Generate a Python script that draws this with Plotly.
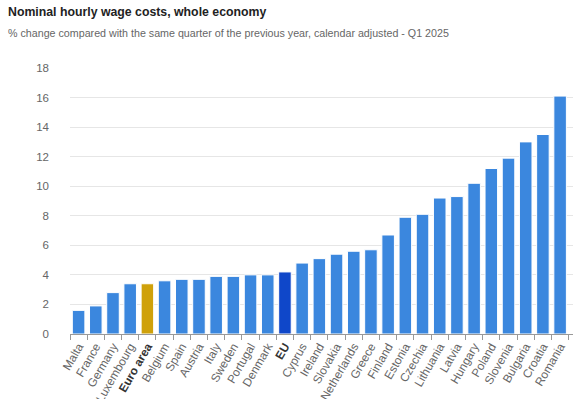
import plotly.graph_objects as go

countries = ["Malta", "France", "Germany", "Luxembourg", "Euro area", "Belgium", "Spain",
             "Austria", "Italy", "Sweden", "Portugal", "Denmark", "EU", "Cyprus", "Ireland",
             "Slovakia", "Netherlands", "Greece", "Finland", "Estonia", "Czechia", "Lithuania",
             "Latvia", "Hungary", "Poland", "Slovenia", "Bulgaria", "Croatia", "Romania"]
values = [1.6, 1.9, 2.8, 3.4, 3.4, 3.6, 3.7, 3.7, 3.9, 3.9, 4.0, 4.0, 4.2, 4.8, 5.1,
          5.4, 5.6, 5.7, 6.7, 7.9, 8.1, 9.2, 9.3, 10.2, 11.2, 11.9, 13.0, 13.5, 16.1]
y_ticks = [0, 2, 4, 6, 8, 10, 12, 14, 16, 18]

BLUE = "#3b87de"
GOLD = "#cfa10a"
EU_BLUE = "#0f47c9"

colors = [GOLD if c == "Euro area" else EU_BLUE if c == "EU" else BLUE for c in countries]
ticktext = [f"<b><span style='color:#333333'>{c}</span></b>" if c in ("Euro area", "EU") else c
            for c in countries]

W, H = 573, 399
L, T, B = 70, 68, 65
plot_h = H - T - B

fig = go.Figure(go.Bar(
    x=countries, y=values,
    marker=dict(color=colors, line=dict(color="white", width=1)),
    hoverinfo="x+y",
))

fig.update_layout(
    width=W, height=H,
    margin=dict(l=L, r=0, t=T, b=B, autoexpand=False),
    paper_bgcolor="white", plot_bgcolor="white",
    font=dict(family="Liberation Sans, Arial, sans-serif", color="#666666"),
    bargap=0.27,
    showlegend=False,
    xaxis=dict(
        type="category", automargin=False,
        tickmode="array", tickvals=countries, ticktext=ticktext,
        tickangle=-60,
        tickfont=dict(size=11.8, color="#666666"),
        range=[-0.5, 28.75],
        showline=True, linecolor="#999999", linewidth=1,
        ticks="outside", tickson="boundaries", ticklen=5, tickcolor="#999999",
        showgrid=False, fixedrange=True,
    ),
    yaxis=dict(
        range=[0, 18], tickvals=y_ticks, automargin=False,
        tickfont=dict(size=11.5, color="#666666"),
        gridcolor="#e6e6e6", gridwidth=1,
        zeroline=False, showline=False,
        ticks="", ticklabelstandoff=20, fixedrange=True,
    ),
    annotations=[
        dict(text="<b>Nominal hourly wage costs, whole economy</b>",
             xref="paper", yref="paper", x=(6 - L) / (W - L), y=1 + (T - 12) / plot_h,
             xanchor="left", yanchor="middle", showarrow=False,
             font=dict(size=12.3, color="#222222")),
        dict(text="% change compared with the same quarter of the previous year, calendar adjusted - Q1 2025",
             xref="paper", yref="paper", x=(6 - L) / (W - L), y=1 + (T - 33) / plot_h,
             xanchor="left", yanchor="middle", showarrow=False,
             font=dict(size=10.7, color="#666666")),
    ],
)

fig.write_html("out.html", config={"displayModeBar": False},
               post_script="document.body.style.margin='0';")
